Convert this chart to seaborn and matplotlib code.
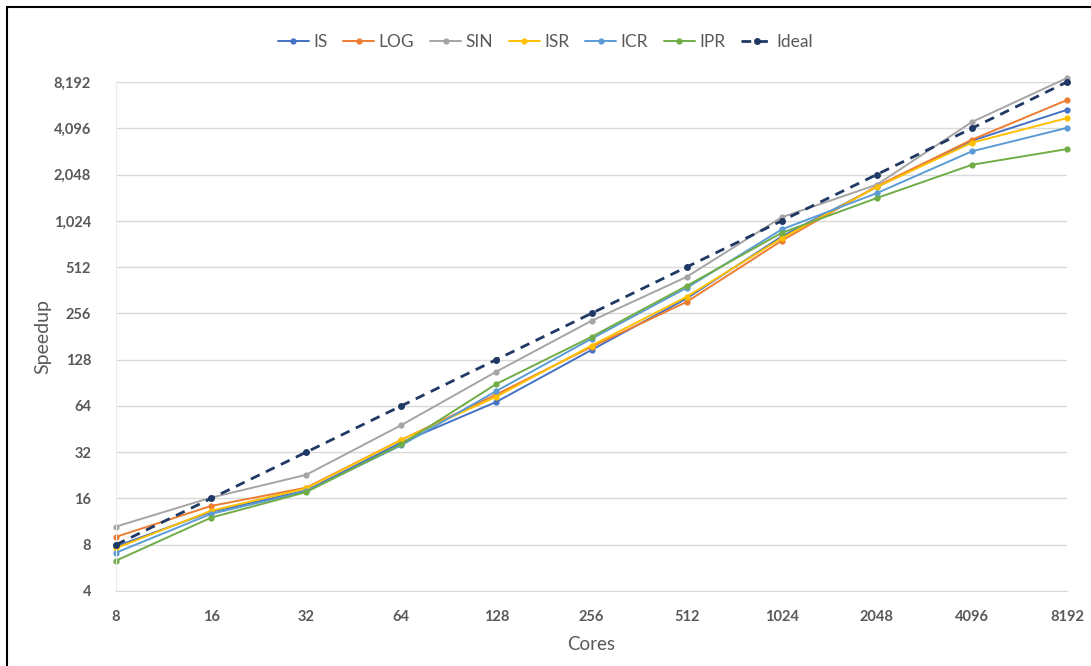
import pandas as pd
import matplotlib.pyplot as plt
import seaborn as sns
import numpy as np
from matplotlib.lines import Line2D
from matplotlib.ticker import FixedLocator, FuncFormatter, NullLocator

cores = [8, 16, 32, 64, 128, 256, 512, 1024, 2048, 4096, 8192]
IS = [7.8, 13.1, 18.0, 37, 68, 148, 320, 810, 1700, 3400, 5400]
LOG = [9.0, 14.3, 18.8, 38.5, 76, 155, 304, 760, 1720, 3450, 6250]
SIN = [10.5, 16.2, 22.8, 48, 107, 229, 442, 1080, 1760, 4500, 8700]
ISR = [7.6, 13.3, 18.6, 38.5, 73.5, 158, 328, 790, 1700, 3300, 4770]
ICR = [7.1, 12.7, 17.8, 35.5, 80, 175, 375, 900, 1550, 2900, 4120]
IPR = [6.3, 12.0, 17.6, 36, 89, 180, 386, 855, 1440, 2370, 3000]
Ideal = [8, 16, 32, 64, 128, 256, 512, 1024, 2048, 4096, 8192]

y_ticks = [4, 8, 16, 32, 64, 128, 256, 512, 1024, 2048, 4096, 8192]

series = {"IS": IS, "LOG": LOG, "SIN": SIN, "ISR": ISR, "ICR": ICR, "IPR": IPR, "Ideal": Ideal}
colors = {"IS": "#4472C4", "LOG": "#ED7D31", "SIN": "#A5A5A5", "ISR": "#FFC000",
          "ICR": "#5B9BD5", "IPR": "#70AD47", "Ideal": "#1F3864"}

df = pd.DataFrame([(name, c, v) for name, vals in series.items() for c, v in zip(cores, vals)],
                  columns=["Method", "Cores", "Speedup"])

sns.set_style("white")
plt.rcParams['font.family'] = ['Lato', 'DejaVu Sans']

fig = plt.figure(figsize=(10.91, 6.66), dpi=100)
ax = fig.add_axes([116 / 1091, 1 - 591 / 666, (1067 - 116) / 1091, (591 - 82) / 666])

txt = "#595959"
for name in series:
    sub = df[df.Method == name]
    ideal = name == "Ideal"
    sns.lineplot(data=sub, x="Cores", y="Speedup", ax=ax, color=colors[name],
                 linewidth=2.0 if ideal else 1.4, linestyle=(0, (3.5, 2.5)) if ideal else "-",
                 marker="o", markersize=5 if ideal else 4.5, markeredgewidth=0,
                 label=name, clip_on=False, zorder=3 if ideal else 2)

ax.set_xscale("log", base=2)
ax.set_yscale("log", base=2)
ax.set_xlim(8, 8192)
ax.set_ylim(4, 8192)
ax.xaxis.set_major_locator(FixedLocator(cores))
ax.xaxis.set_minor_locator(NullLocator())
ax.xaxis.set_major_formatter(FuncFormatter(lambda v, p: f"{int(round(v))}"))
ax.yaxis.set_major_locator(FixedLocator(y_ticks))
ax.yaxis.set_minor_locator(NullLocator())
ax.yaxis.set_major_formatter(FuncFormatter(lambda v, p: f"{int(round(v)):,}"))

ax.grid(axis="y", color="#D9D9D9", linewidth=1)
ax.grid(axis="x", visible=False)
for s in ["top", "right"]:
    ax.spines[s].set_visible(False)
ax.spines["bottom"].set_color("#D9D9D9")
ax.spines["left"].set_color("#EBEBEB")
ax.tick_params(length=0)
ax.tick_params(axis="x", pad=14, labelsize=10.5, labelcolor=txt)
ax.tick_params(axis="y", pad=18, labelsize=10.5, labelcolor=txt)
for lab in ax.get_xticklabels() + ax.get_yticklabels():
    lab.set_fontweight("bold")

ax.set_xlabel("Cores", fontsize=13.5, color=txt, labelpad=8)
ax.set_ylabel("Speedup", fontsize=14, color=txt, labelpad=2)

handles, labels = ax.get_legend_handles_labels()
ax.legend(handles, labels, loc="center", bbox_to_anchor=(0.5, (666 - 42) / 666),
          bbox_transform=fig.transFigure, ncol=7, frameon=False, fontsize=12.5,
          handlelength=1.8, columnspacing=0.9, handletextpad=0.25, labelcolor=txt)

# outer frame (left and top edges visible)
fig.add_artist(Line2D([7 / 1091, 7 / 1091], [0, 1 - 7 / 666], transform=fig.transFigure,
                      color="black", linewidth=1.5))
fig.add_artist(Line2D([7 / 1091, 1], [1 - 7 / 666, 1 - 7 / 666], transform=fig.transFigure,
                      color="black", linewidth=1.5))

fig.savefig("out.png", dpi=100)
